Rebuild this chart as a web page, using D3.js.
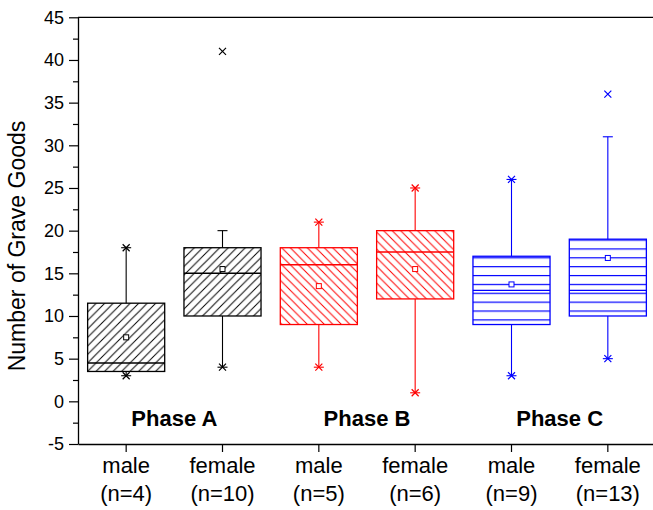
<!DOCTYPE html>
<html><head><meta charset="utf-8">
<script src="https://cdn.jsdelivr.net/npm/d3@7"></script>
<style>body{margin:0;background:#fff}svg{display:block}text{font-family:"Liberation Sans",Arial,sans-serif;fill:#000}</style>
</head><body>
<script>
const categories = ["A-male","A-female","B-male","B-female","C-male","C-female"];
const sexLabels = ["male","female","male","female","male","female"];
const nLabels = ["(n=4)","(n=10)","(n=5)","(n=6)","(n=9)","(n=13)"];
const phases = ["Phase A","Phase B","Phase C"];
const phaseColors = ["#000000","#ff0000","#0000ff"];
const whiskerLow = [3,4,4,1,3,5];
const q1 = [3.5,10,9,12,9,10];
const median = [4.5,15,16,17.5,13,13];
const q3 = [11.5,18,18,20,17,19];
const whiskerHigh = [18,20,21,25,26,31];
const mean = [7.5,15.5,13.5,15.5,13.7,16.8];
const crossMarks = [[3,18],[4,41],[4,21],[1,25],[3,26],[5,36]];
const yTicks = [-5,0,5,10,15,20,25,30,35,40,45];
const yMinorTicks = [-2.5,2.5,7.5,12.5,17.5,22.5,27.5,32.5,37.5,42.5];

const W = 653, H = 510;
const svg = d3.select("body").append("svg").attr("width", W).attr("height", H);

const y = d3.scaleLinear().domain([-5,45]).range([444,17.3]);
const x = d3.scaleBand().domain(categories).range([78,656]).padding(0);
const bw = x.bandwidth()*0.8;
const cx = c => x(c) + x.bandwidth()/2;

// patterns
const defs = svg.append("defs");
const s = 8.5;
const patA = defs.append("pattern").attr("id","hatch0").attr("patternUnits","userSpaceOnUse").attr("width",s).attr("height",s);
patA.append("path").attr("d",`M0,${s} L${s},0 M-2,2 L2,-2 M${s-2},${s+2} L${s+2},${s-2}`).attr("stroke",phaseColors[0]).attr("stroke-width",1);
const patB = defs.append("pattern").attr("id","hatch1").attr("patternUnits","userSpaceOnUse").attr("width",s).attr("height",s);
patB.append("path").attr("d",`M0,0 L${s},${s} M-2,${s-2} L2,${s+2} M${s-2},-2 L${s+2},2`).attr("stroke",phaseColors[1]).attr("stroke-width",1);
const ch = 8.87;
const patC = defs.append("pattern").attr("id","hatch2").attr("patternUnits","userSpaceOnUse").attr("width",10).attr("height",ch);
patC.append("path").attr("d",`M-1,0.6 H11`).attr("stroke",phaseColors[2]).attr("stroke-width",1.2);

// axes
const gy = svg.append("g").attr("transform","translate(78,0)")
  .call(d3.axisLeft(y).tickValues(yTicks).tickSize(9).tickSizeOuter(0).tickPadding(5).tickFormat(d => String(d)));
gy.selectAll("text").style("font-size","18px").style("font-family",'"Liberation Sans",Arial,sans-serif');
gy.select(".domain").attr("stroke-width",1.3);
gy.selectAll(".tick line").attr("stroke-width",1.2);
const gym = svg.append("g").attr("transform","translate(78,0)")
  .call(d3.axisLeft(y).tickValues(yMinorTicks).tickSize(5).tickFormat(""));
gym.select(".domain").remove();
gym.selectAll(".tick line").attr("stroke-width",1.2);

const gx = svg.append("g").attr("transform","translate(0,444)")
  .call(d3.axisBottom(x).tickSize(8).tickSizeOuter(0).tickFormat(""));
gx.select(".domain").attr("stroke-width",1.3);
gx.selectAll(".tick line").attr("stroke-width",1.2);

svg.append("line").attr("x1",78).attr("x2",656).attr("y1",y(45)).attr("y2",y(45)).attr("stroke","#000").attr("stroke-width",1.3);

// x labels
categories.forEach((c,i)=>{
  svg.append("text").attr("x",cx(c)).attr("y",473).attr("text-anchor","middle").style("font-size","22px").text(sexLabels[i]);
  svg.append("text").attr("x",cx(c)).attr("y",501).attr("text-anchor","middle").style("font-size","22px").text(nLabels[i]);
});

// y title
svg.append("text").attr("transform","translate(25,246) rotate(-90)").attr("text-anchor","middle").style("font-size","23px").text("Number of Grave Goods");

// boxes
categories.forEach((c,i)=>{
  const p = Math.floor(i/2);
  const col = phaseColors[p];
  const g = svg.append("g");
  const xc = cx(c);
  // whiskers
  g.append("line").attr("x1",xc).attr("x2",xc).attr("y1",y(q3[i])).attr("y2",y(whiskerHigh[i])).attr("stroke",col).attr("stroke-width",1.1);
  g.append("line").attr("x1",xc).attr("x2",xc).attr("y1",y(q1[i])).attr("y2",y(whiskerLow[i])).attr("stroke",col).attr("stroke-width",1.1);
  [whiskerLow[i], whiskerHigh[i]].forEach(v=>{
    g.append("line").attr("x1",xc-5).attr("x2",xc+5).attr("y1",y(v)).attr("y2",y(v)).attr("stroke",col).attr("stroke-width",1.1);
  });
  // box
  g.append("rect").attr("x",xc-bw/2).attr("y",y(q3[i])).attr("width",bw).attr("height",y(q1[i])-y(q3[i]))
    .attr("fill",`url(#hatch${p})`).attr("stroke",col).attr("stroke-width",1.3);
  g.append("line").attr("x1",xc-bw/2).attr("x2",xc+bw/2).attr("y1",y(median[i])).attr("y2",y(median[i])).attr("stroke",col).attr("stroke-width",1.4);
  // cross markers
  crossMarks[i].forEach(v=>{
    const yy = y(v);
    g.append("path").attr("d",`M${xc-3.5},${yy-3.5} L${xc+3.5},${yy+3.5} M${xc-3.5},${yy+3.5} L${xc+3.5},${yy-3.5}`).attr("stroke",col).attr("stroke-width",1.2).attr("fill","none");
  });
  // mean
  g.append("rect").attr("x",xc-2.5).attr("y",y(mean[i])-2.5).attr("width",5).attr("height",5).attr("fill","#fff").attr("stroke",col).attr("stroke-width",1);
});

// phase labels
phases.forEach((ph,p)=>{
  const xm = (cx(categories[2*p]) + cx(categories[2*p+1]))/2;
  svg.append("text").attr("x",xm).attr("y",426).attr("text-anchor","middle").style("font-size","22px").style("font-weight","bold").text(ph);
});
</script>
</body></html>
